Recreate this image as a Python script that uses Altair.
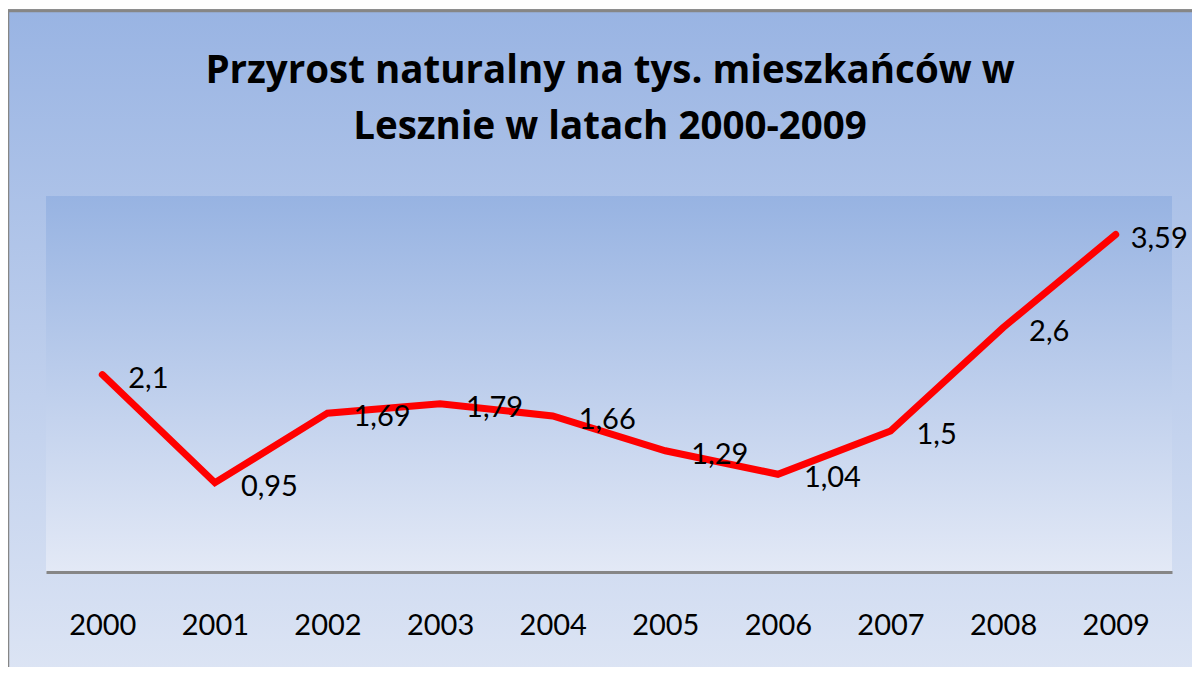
import altair as alt
import pandas as pd

years = ["2000", "2001", "2002", "2003", "2004", "2005", "2006", "2007", "2008", "2009"]
values = [2.1, 0.95, 1.69, 1.79, 1.66, 1.29, 1.04, 1.5, 2.6, 3.59]
labels = ["2,1", "0,95", "1,69", "1,79", "1,66", "1,29", "1,04", "1,5", "2,6", "3,59"]
title_lines = ["Przyrost naturalny na tys. mieszkańców w", "Lesznie w latach 2000-2009"]

df = pd.DataFrame({"year": years, "value": values, "label": labels})

W, H = 1126, 376
FONT = "Lato"

x_enc = alt.X("year:N", sort=years, title=None,
              scale=alt.Scale(paddingInner=0, paddingOuter=0.5),
              axis=alt.Axis(labelAngle=0, ticks=False, domainColor="#868686",
                            domainWidth=3, labelFont=FONT, labelFontSize=29,
                            labelColor="#000000", labelPadding=53,
                            labelBaseline="middle", zindex=1))
y_enc = alt.Y("value:Q", title=None, scale=alt.Scale(domain=[0, 4], nice=False),
              axis=None)

base = alt.Chart(df)

outer_bg = base.mark_rect(
    fill=alt.Gradient(gradient="linear", x1=0, y1=0, x2=0, y2=1,
                      stops=[alt.GradientStop(color="#99b4e3", offset=0),
                             alt.GradientStop(color="#e0e7f5", offset=1)]),
    stroke="#868686", strokeWidth=2.5,
).encode(x=alt.value(-38), x2=alt.value(W + 80), y=alt.value(-185), y2=alt.value(H + 140))

inner_bg = base.mark_rect(
    fill=alt.Gradient(gradient="linear", x1=0, y1=0, x2=0, y2=1,
                      stops=[alt.GradientStop(color="#97b3e2", offset=0),
                             alt.GradientStop(color="#e3e9f6", offset=1)]),
).encode(x=alt.value(0), x2=alt.value(W), y=alt.value(0), y2=alt.value(H))

title = alt.Chart(pd.DataFrame({"t": [0]})).mark_text(
    text=title_lines, align="center", baseline="alphabetic", font="Open Sans",
    fontSize=38.5, fontWeight="bold", color="#000000", lineHeight=56,
).encode(x=alt.value(W / 2 + 1), y=alt.value(-113))

line = base.mark_line(color="#ff0000", strokeWidth=7, strokeCap="round",
                      strokeJoin="miter").encode(x=x_enc, y=y_enc)

text = base.mark_text(align="left", baseline="middle",
                      dx=alt.expr("datum.year == '2009' ? 15 : 26"), dy=4,
                      font=FONT, fontSize=29, color="#000000").encode(
    x=x_enc, y=y_enc, text="label:N")

chart = alt.layer(outer_bg, inner_bg, title, line, text).properties(
    width=W, height=H,
    padding={"left": 38, "top": 188, "right": 20, "bottom": 95},
    autosize=alt.AutoSizeParams(type="none"),
).configure_view(stroke=None)

chart.save("out.html", embed_options={"renderer": "svg", "actions": False})
